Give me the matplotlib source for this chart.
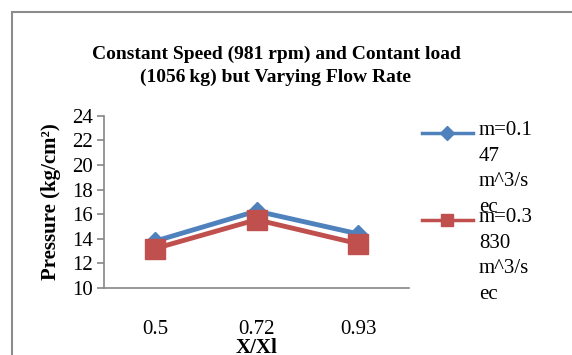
import matplotlib
matplotlib.use("Agg")
import matplotlib.pyplot as plt
from matplotlib.lines import Line2D
from matplotlib.patches import Rectangle

categories = ["0.5", "0.72", "0.93"]
series_names = ["m=0.1\n47\nm^3/s\nec", "m=0.3\n830\nm^3/s\nec"]
blue_vals = [13.8, 16.25, 14.4]
red_vals = [13.2, 15.55, 13.6]
yticks = [10, 12, 14, 16, 18, 20, 22, 24]
title = "Constant Speed (981 rpm) and Contant load\n(1056\u2009kg) but Varying Flow Rate"
xlabel = "X/Xl"
ylabel = "Pressure (kg/cm\u00b2)"

plt.rcParams['font.family'] = ['Liberation Serif', 'DejaVu Serif']

W, H = 572, 355
fig = plt.figure(figsize=(W / 100, H / 100), dpi=100)
fig.patch.set_facecolor("white")

# outer chart frame
fig.patches.append(Rectangle((12 / W, -0.1), 1.2, 1 - 12 / H + 0.1, transform=fig.transFigure,
                             fill=False, edgecolor="#8c8c8c", linewidth=1.5))

ax = fig.add_axes([104 / W, 1 - 288 / H, (409 - 104) / W, (288 - 115.7) / H])
x = list(range(len(categories)))
blue = "#4F81BD"
red = "#C0504D"
l1, = ax.plot(x, blue_vals, color=blue, lw=3.5, marker="D", markersize=9, zorder=3)
l2, = ax.plot(x, red_vals, color=red, lw=3.5, marker="s", markersize=14, zorder=4)

ax.set_xlim(-0.5, 2.5)
ax.set_ylim(10, 24)
ax.set_yticks(yticks)
ax.set_xticks(x)
ax.set_xticklabels(categories)
for s in ["top", "right"]:
    ax.spines[s].set_visible(False)
for s in ["left", "bottom"]:
    ax.spines[s].set_color("#868686")
    ax.spines[s].set_linewidth(1.2)
ax.tick_params(axis="y", length=5, width=1.2, color="#868686", labelsize=15, pad=3)
ax.tick_params(axis="x", length=0, labelsize=15, pad=23)
ax.set_xlabel(xlabel, fontsize=15, fontweight="bold", labelpad=-1)
ax.set_ylabel(ylabel, fontsize=15, fontweight="bold", labelpad=8)

fig.text(276 / W, 1 - 66 / H, title, ha="center", va="center", fontsize=14,
         fontweight="bold", linespacing=1.45)

# legend drawn manually (Excel style, handle on first line)
for line, name, ypx in [(l1, series_names[0], 133), (l2, series_names[1], 220)]:
    yf = 1 - ypx / H
    fig.lines.append(Line2D([422 / W, 473 / W], [yf, yf], transform=fig.transFigure,
                            color=line.get_color(), lw=2.5))
    fig.lines.append(Line2D([447.5 / W], [yf], transform=fig.transFigure,
                            color=line.get_color(), marker=line.get_marker(),
                            markersize=7 if line.get_marker() == "D" else 9, lw=0))
    fig.text(479 / W, yf + 12 / H, name, ha="left", va="top", fontsize=15, linespacing=1.48,
             transform=fig.transFigure)

fig.savefig("out.png", dpi=100)
